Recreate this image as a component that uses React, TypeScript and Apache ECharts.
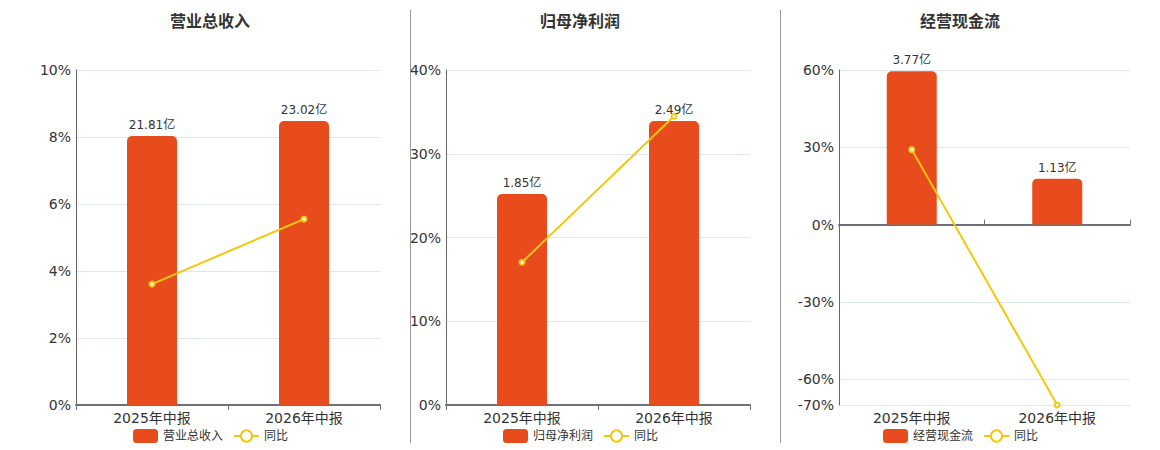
import React, { useEffect, useRef } from "react";
import * as echarts from "echarts";

const categories = ["2025年中报", "2026年中报"];
const panelTitles = ["营业总收入", "归母净利润", "经营现金流"];
const revenue = [21.81, 23.02];
const revenueYoY = [3.61, 5.55];
const profit = [1.85, 2.49];
const profitYoY = [17.04, 34.47];
const cashFlow = [3.77, 1.13];
const cashFlowYoY = [29.1, -70];
const yoyName = "同比";

const BAR = "#E84C1C";
const LINE = "#F2C811";
const TXT = "#333";
const FONT = "'DejaVu Sans', 'Noto Sans CJK SC', sans-serif";

export default function App() {
  const ref = useRef<HTMLDivElement>(null);
  useEffect(() => {
    document.body.style.margin = "0";
    const chart = echarts.init(ref.current!, null, { renderer: "svg" });
    const grids = [
      { left: 76, top: 70, width: 304, height: 335 },
      { left: 446, top: 70, width: 304, height: 335 },
      { left: 839, top: 70, width: 291, height: 335 },
    ];
    const valueAxisBase = (gi: number, min: number, max: number, extra: any = {}) => ({
      type: "value",
      gridIndex: gi,
      min,
      max,
      axisLine: { show: true, lineStyle: { color: "#666", width: 1 } },
      axisTick: { show: false },
      axisLabel: { formatter: "{value}%", color: TXT, fontSize: 14, margin: 5 },
      splitLine: { lineStyle: { color: "#E0E6F1" } },
      ...extra,
    });
    const hiddenAxis = (gi: number, min: number, max: number) => ({
      type: "value",
      gridIndex: gi,
      min,
      max,
      show: false,
      splitLine: { show: false },
    });
    const xLabelAxis = (gi: number, showLine: boolean) => ({
      type: "category",
      gridIndex: gi,
      data: categories,
      axisLine: showLine
        ? { show: true, onZero: false, lineStyle: { color: "#6E7079", width: 2 } }
        : { show: false, onZero: false },
      axisTick: { show: showLine, length: 5, lineStyle: { color: "#6E7079" } },
      axisLabel: { color: TXT, fontSize: 14, margin: 6 },
    });
    const barSeries = (name: string, xi: number, yi: number, data: number[]) => ({
      type: "bar",
      name,
      xAxisIndex: xi,
      yAxisIndex: yi,
      data,
      barWidth: 50,
      itemStyle: { color: BAR, borderRadius: [5, 5, 0, 0] },
      label: {
        show: true,
        position: "top",
        distance: 5,
        color: TXT,
        fontSize: 12,
        formatter: (p: any) => p.value + "亿",
      },
    });
    const lineSeries = (xi: number, yi: number, data: number[]) => ({
      type: "line",
      name: yoyName,
      xAxisIndex: xi,
      yAxisIndex: yi,
      data,
      symbol: "emptyCircle",
      symbolSize: 5,
      lineStyle: { color: LINE, width: 2 },
      itemStyle: { color: LINE, borderWidth: 2 },
    });
    const legend = (left: number, name: string) => ({
      left,
      top: 429,
      padding: 0,
      itemWidth: 25,
      itemHeight: 14,
      itemGap: 10,
      textStyle: { color: TXT, fontSize: 12 },
      data: [{ name, icon: "roundRect" }, { name: yoyName }],
    });

    const option: any = {
      animation: false,
      textStyle: { fontFamily: FONT },
      title: panelTitles.map((t, i) => ({
        text: t,
        left: [170, 540, 920][i],
        top: 13,
        padding: 0,
        textStyle: { color: TXT, fontSize: 16, fontWeight: "bold", fontFamily: FONT },
      })),
      grid: grids,
      xAxis: [
        xLabelAxis(0, true),
        xLabelAxis(1, true),
        xLabelAxis(2, false),
        {
          type: "category",
          gridIndex: 2,
          data: categories,
          axisLine: { show: true, onZero: true, lineStyle: { color: "#6E7079", width: 2 } },
          axisTick: { show: true, length: 5, lineStyle: { color: "#6E7079" } },
          axisLabel: { show: false },
        },
      ],
      yAxis: [
        valueAxisBase(0, 0, 10, { interval: 2 }),
        hiddenAxis(0, 0, revenue[1] * 1.18),
        valueAxisBase(1, 0, 40, { interval: 10 }),
        hiddenAxis(1, 0, profit[1] * 1.18),
        valueAxisBase(2, -70, 60, { splitNumber: 5 }),
        hiddenAxis(2, (-3.8 * 70) / 60, 3.8),
      ],
      legend: [
        legend(133, "营业总收入"),
        legend(503, "归母净利润"),
        legend(883, "经营现金流"),
      ],
      series: [
        barSeries("营业总收入", 0, 1, revenue),
        lineSeries(0, 0, revenueYoY),
        barSeries("归母净利润", 1, 3, profit),
        lineSeries(1, 2, profitYoY),
        barSeries("经营现金流", 2, 5, cashFlow),
        lineSeries(2, 4, cashFlowYoY),
      ],
      graphic: [
        { type: "line", shape: { x1: 410.5, y1: 10, x2: 410.5, y2: 443 }, style: { stroke: "#999", lineWidth: 1 } },
        { type: "line", shape: { x1: 780.5, y1: 10, x2: 780.5, y2: 443 }, style: { stroke: "#999", lineWidth: 1 } },
      ],
    };
    chart.setOption(option);
    return () => chart.dispose();
  }, []);
  return <div ref={ref} style={{ width: 1160, height: 450 }} />;
}
